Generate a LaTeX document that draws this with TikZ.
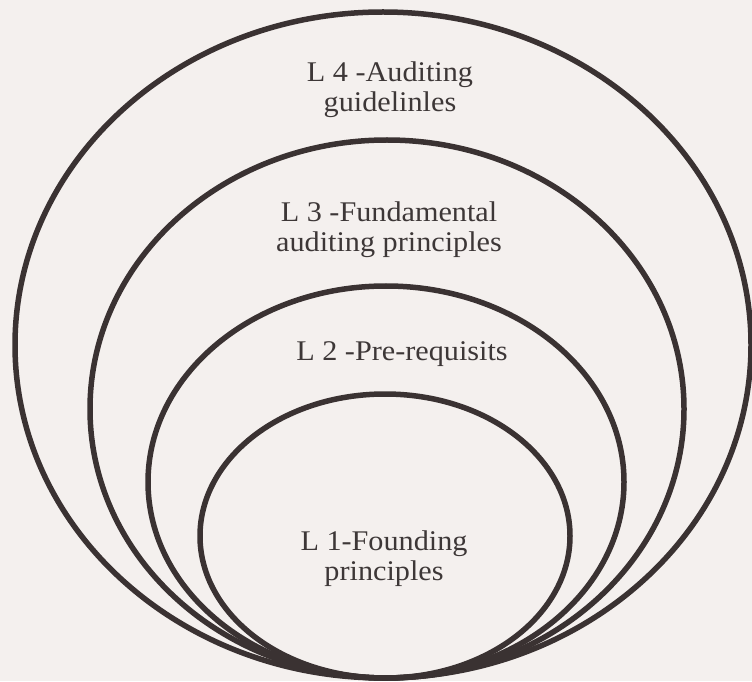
\documentclass[tikz,border=0pt]{standalone}
\usepackage{fontspec}
\setmainfont{Liberation Serif}[FakeStretch=1.06]
\definecolor{paper}{HTML}{F4F0EE}
\definecolor{ink}{HTML}{3A3232}
\definecolor{txt}{HTML}{3D3737}
\tikzset{
  ring/.style={draw=ink, line width=5.5pt},
  lbl/.style={text=txt, align=center, inner sep=0pt, anchor=base,
    font=\fontsize{28.5}{30}\selectfont}
}
\begin{document}
\begin{tikzpicture}[x=1pt,y=1pt]
  \fill[paper] (0,0) rectangle (752,681);
  \useasboundingbox (0,0) rectangle (752,681);
  % image coords: Y = 681 - y ; anchor=base is the last line's baseline
  \draw[ring] (383,336) ellipse [x radius=368, y radius=333];
  \draw[ring] (387,272) ellipse [x radius=297, y radius=269];
  \draw[ring] (386,199) ellipse [x radius=238, y radius=196];
  \draw[ring] (385,145) ellipse [x radius=185, y radius=142];
  \node[lbl] (l4) at (390,569.3) {L 4 -Auditing\\guidelinles};
  \node[lbl] (l3) at (389,429.3) {L 3 -Fundamental\\auditing principles};
  \node[lbl] (l2) at (402,321) {L 2 -Pre-requisits};
  \node[lbl] (l1) at (384,101) {L 1-Founding\\principles};
\end{tikzpicture}
\end{document}
